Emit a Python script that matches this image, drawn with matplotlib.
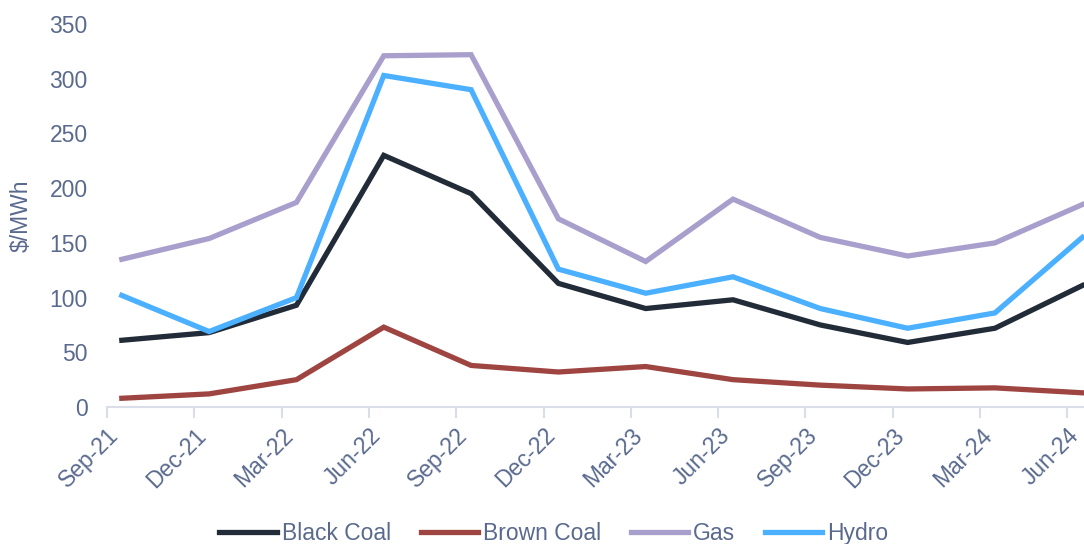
import matplotlib.pyplot as plt
import numpy as np

plt.rcParams['font.family'] = ['Liberation Sans', 'DejaVu Sans']

quarters = ["Sep-21", "Dec-21", "Mar-22", "Jun-22", "Sep-22", "Dec-22",
            "Mar-23", "Jun-23", "Sep-23", "Dec-23", "Mar-24", "Jun-24"]

black_coal = [61, 68, 93, 230, 195, 113, 90, 98, 75, 59, 72, 111]
brown_coal = [8, 12, 25, 73, 38, 32, 37, 25, 20, 16.5, 17.5, 13]
gas = [135, 154, 187, 321, 322, 172, 133, 190, 155, 138, 150, 185]
hydro = [102, 69, 100, 303, 290, 126, 104, 119, 90, 72, 86, 155]

text_col = "#5a6a8e"
fs = 16.5

fig = plt.figure(figsize=(10.84, 5.44), dpi=100)
ax = fig.add_axes([0.0987, 0.2518, 0.9013, 0.7040])

# points sit a little after each quarter tick (date axis)
x = np.arange(len(quarters)) + 0.17

ax.plot(x, black_coal, color="#222b38", lw=3.8, label="Black Coal", solid_joinstyle="miter")
ax.plot(x, brown_coal, color="#9e4541", lw=3.8, label="Brown Coal", solid_joinstyle="miter")
ax.plot(x, gas, color="#a99fcd", lw=3.8, label="Gas", solid_joinstyle="miter")
ax.plot(x, hydro, color="#4ab0ff", lw=3.8, label="Hydro", solid_joinstyle="miter")

ax.set_xlim(0, 11.19)
ax.set_ylim(0, 350)
ax.set_yticks(range(0, 351, 50))
ax.set_xticks(np.arange(len(quarters)))
ax.set_xticklabels(quarters, rotation=45, ha="right", va="top",
                   rotation_mode="anchor")

for s in ["top", "right", "left"]:
    ax.spines[s].set_visible(False)
ax.spines["bottom"].set_color("#d9dee8")
ax.spines["bottom"].set_linewidth(1.5)
ax.tick_params(axis="x", colors="#d9dee8", length=8, width=1.5, pad=4,
               labelcolor=text_col, labelsize=fs)
ax.tick_params(axis="y", length=0, pad=14, labelcolor=text_col, labelsize=fs)

ax.set_ylabel("$/MWh", color=text_col, fontsize=fs, labelpad=12)

fig.legend(loc="center", bbox_to_anchor=(0.511, 0.02), ncol=4,
           frameon=False, fontsize=fs, handlelength=2.5, handletextpad=0.22,
           columnspacing=1.3, labelcolor=text_col)

fig.savefig("out.png", dpi=100)
